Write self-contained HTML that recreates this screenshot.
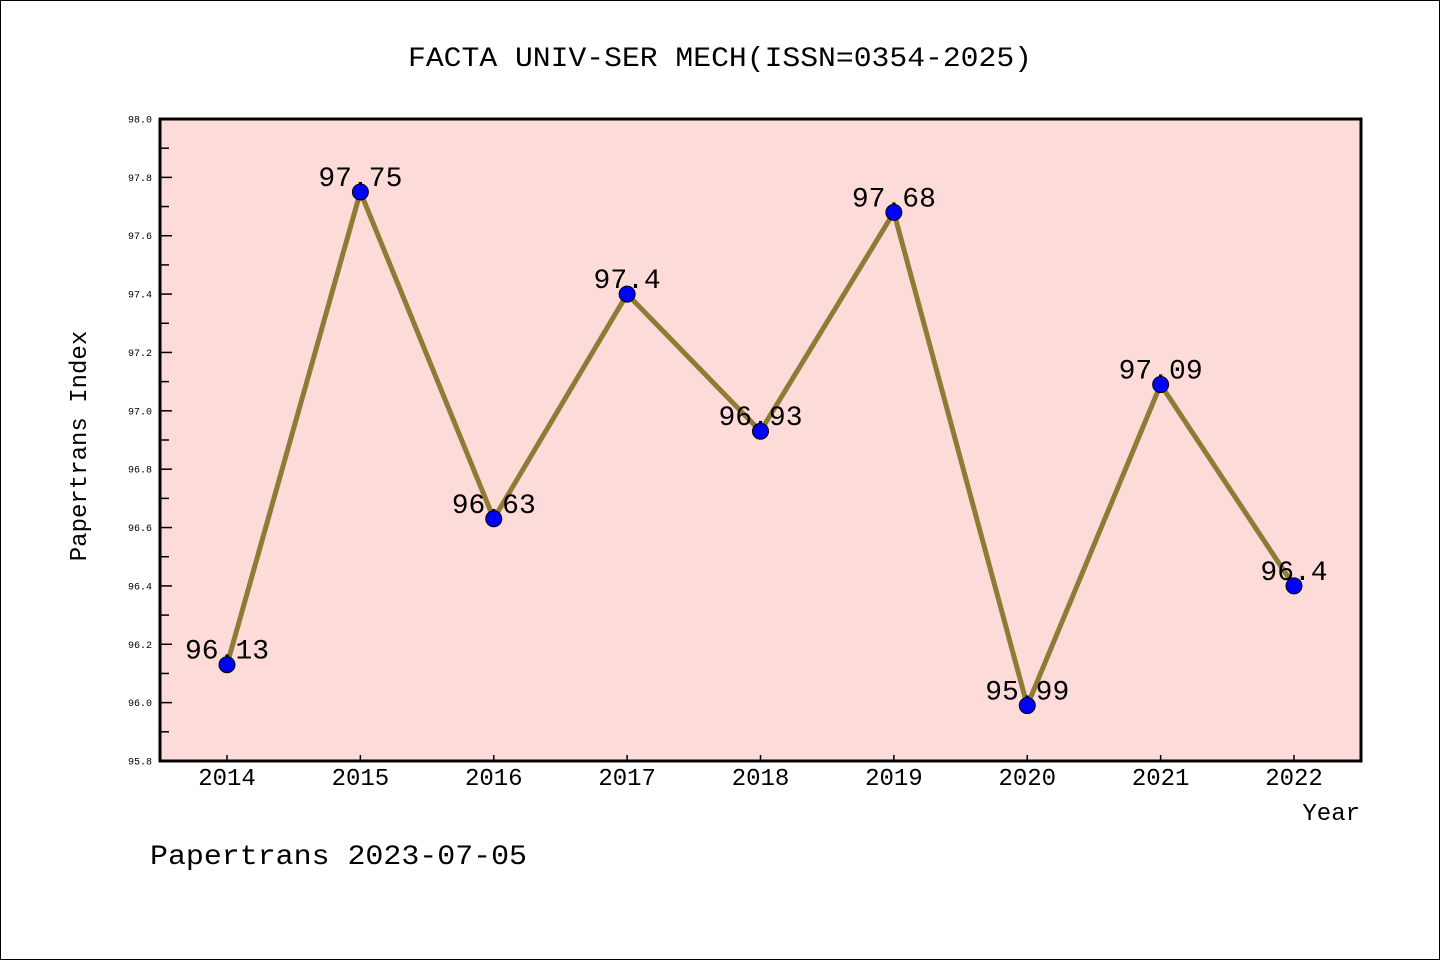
<!DOCTYPE html>
<html><head><meta charset="utf-8"><style>
html,body{margin:0;padding:0;background:#fff}
svg{display:block}
text{font-family:"Liberation Mono","DejaVu Sans Mono",monospace}
</style></head><body>
<svg id="chart" width="1440" height="960">
<rect x="0.5" y="0.5" width="1439" height="959" fill="#fff" stroke="#000"/>
<text x="408" y="66" font-size="28" textLength="624" lengthAdjust="spacingAndGlyphs">FACTA UNIV-SER MECH(ISSN=0354-2025)</text>
<rect x="160" y="119" width="1201" height="642" fill="#fddbd8"/>
<g id="axes"></g>
<g id="series"></g>
<rect x="160" y="119" width="1201" height="642" fill="none" stroke="#000" stroke-width="3"/>
<text x="86" y="446" font-size="24" text-anchor="middle" transform="rotate(-90 86 446)">Papertrans Index</text>
<text x="1360" y="820" font-size="24" text-anchor="end">Year</text>
<text x="150" y="864" font-size="28" textLength="377" lengthAdjust="spacingAndGlyphs">Papertrans 2023-07-05</text>
</svg>
<script>
const years = [2014,2015,2016,2017,2018,2019,2020,2021,2022];
const values = [96.13,97.75,96.63,97.4,96.93,97.68,95.99,97.09,96.4];
const valueLabels = ["96.13","97.75","96.63","97.4","96.93","97.68","95.99","97.09","96.4"];
const yTicks = ["95.8","96.0","96.2","96.4","96.6","96.8","97.0","97.2","97.4","97.6","97.8","98.0"];
(function(){
const NS="http://www.w3.org/2000/svg";
const yMin=95.8,yMax=98.0,plotTop=119,plotBot=761;
const y=v=>plotBot-(v-yMin)/(yMax-yMin)*(plotBot-plotTop);
const x0=227,x1=1294;
const x=i=>x0+i*(x1-x0)/(years.length-1);
function mk(tag,attrs,parent){const e=document.createElementNS(NS,tag);for(const k in attrs)e.setAttribute(k,attrs[k]);parent.appendChild(e);return e;}
const axes=document.getElementById('axes'),ser=document.getElementById('series');
yTicks.forEach((t,i)=>{const v=parseFloat(t),yy=y(v);
 const l=mk('line',{x1:160,x2:172,y1:yy,y2:yy,stroke:'#000','stroke-width':1.5},axes);
 
 
 const tx=mk('text',{x:152,y:yy+3.5,'font-size':10,'text-anchor':'end'},axes);tx.textContent=t;
 
 
 if(i<yTicks.length-1){const ym=y(v+0.1);
  const m=mk('line',{x1:160,x2:169,y1:ym,y2:ym,stroke:'#000','stroke-width':1.5},axes);
  
  }
});
years.forEach((yr,i)=>{const xx=x(i);
 const l=mk('line',{x1:xx,x2:xx,y1:plotBot,y2:plotBot-6,stroke:'#000','stroke-width':1.5},axes);
 
 
 const t=mk('text',{x:xx,y:785,'font-size':24,'text-anchor':'middle'},axes);t.textContent=yr;
 
 
});
const pts=values.map((v,i)=>x(i)+','+y(v)).join(' ');
const pl=mk('polyline',{points:pts,fill:'none',stroke:'#8e7b35','stroke-width':5,'stroke-linejoin':'round'},ser);


values.forEach((v,i)=>{
 const t=mk('text',{x:x(i),y:y(v)-6,'font-size':28,'text-anchor':'middle'},ser);t.textContent=valueLabels[i];
 
 
});
values.forEach((v,i)=>{
 const c=mk('circle',{cx:x(i),cy:y(v),r:8,fill:'#0000ff',stroke:'#000','stroke-width':1},ser);
 
 
});
})();
</script>
</body></html>
